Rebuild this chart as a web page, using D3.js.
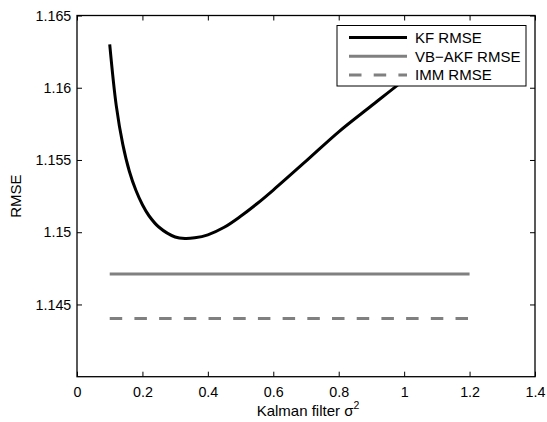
<!DOCTYPE html>
<html>
<head>
<meta charset="utf-8">
<script src="https://cdn.jsdelivr.net/npm/d3@7"></script>
<style>
  html, body { margin: 0; padding: 0; background: #fff; }
  svg { display: block; font-family: "Liberation Sans", Arial, Helvetica, sans-serif; }
</style>
</head>
<body>
<svg id="chart" width="547" height="422"></svg>
<script>
// Kalman filter variance sweep and its RMSE
const kfSigma = [0.10, 0.12, 0.14, 0.16, 0.18, 0.20, 0.22, 0.25, 0.30, 0.33, 0.36, 0.40, 0.45, 0.50, 0.55, 0.60, 0.70, 0.80, 0.90, 1.00, 1.10, 1.20];
const kfRmse  = [1.1630, 1.15876, 1.15608, 1.15422, 1.15290, 1.15190, 1.15114, 1.15036, 1.14967, 1.14956, 1.14961, 1.14982, 1.15034, 1.15110, 1.15197, 1.15292, 1.15492, 1.15695, 1.15875, 1.16053, 1.16220, 1.16380];

// Reference filters (constant over the sweep)
const flatSigma = [0.1, 1.2];
const vbakfRmse = [1.1471, 1.1471];
const immRmse   = [1.14403, 1.14403];

// Axis ticks
const xTicks = [0, 0.2, 0.4, 0.6, 0.8, 1, 1.2, 1.4];
const yTicks = [1.145, 1.15, 1.155, 1.16, 1.165];

const legendLabels = ["KF RMSE", "VB\u2212AKF RMSE", "IMM RMSE"];

const svg = d3.select("#chart");
const plotLeft = 77, plotRight = 535, plotTop = 15.5, plotBottom = 376.7;

const x = d3.scaleLinear().domain([0, 1.4]).range([plotLeft, plotRight]);
const y = d3.scaleLinear().domain([1.14, 1.165]).range([plotBottom, plotTop]);

const fmt = v => String(+v.toFixed(3));
const tickLen = 5;

// Axes: boxed frame with inward ticks on all four sides
const gx = svg.append("g").attr("transform", `translate(0,${plotBottom})`)
  .call(d3.axisBottom(x).tickValues(xTicks).tickFormat(fmt).tickSizeInner(-tickLen).tickSizeOuter(0).tickPadding(10));
const gxTop = svg.append("g").attr("transform", `translate(0,${plotTop})`)
  .call(d3.axisTop(x).tickValues(xTicks).tickFormat("").tickSizeInner(-tickLen).tickSizeOuter(0));
const gy = svg.append("g").attr("transform", `translate(${plotLeft},0)`)
  .call(d3.axisLeft(y).tickValues(yTicks).tickFormat(fmt).tickSizeInner(-tickLen).tickSizeOuter(0).tickPadding(10));
const gyRight = svg.append("g").attr("transform", `translate(${plotRight},0)`)
  .call(d3.axisRight(y).tickValues(yTicks).tickFormat("").tickSizeInner(-tickLen).tickSizeOuter(0));

[gx, gxTop, gy, gyRight].forEach(g => {
  g.select(".domain").remove();
  g.selectAll(".tick line").attr("stroke", "#000").attr("stroke-width", 1);
  g.selectAll("text").attr("font-size", 14.3).attr("fill", "#000")
    .attr("font-family", "'Liberation Sans', Arial, sans-serif");
});
gy.selectAll("text").attr("dx", "0.3em");

svg.append("rect")
  .attr("x", plotLeft).attr("y", plotTop)
  .attr("width", plotRight - plotLeft).attr("height", plotBottom - plotTop)
  .attr("fill", "none").attr("stroke", "#000").attr("stroke-width", 1.3);

// Series
const flatLine = d3.line().x(d => x(d[0])).y(d => y(d[1]));

svg.append("path")
  .datum(flatSigma.map((s, i) => [s, vbakfRmse[i]]))
  .attr("d", flatLine)
  .attr("fill", "none").attr("stroke", "#808080").attr("stroke-width", 3);

svg.append("path")
  .datum(flatSigma.map((s, i) => [s, immRmse[i]]))
  .attr("d", flatLine)
  .attr("fill", "none").attr("stroke", "#808080").attr("stroke-width", 3)
  .attr("stroke-dasharray", "12.5,12.2");

svg.append("path")
  .datum(kfSigma.map((s, i) => [s, kfRmse[i]]))
  .attr("d", d3.line().x(d => x(d[0])).y(d => y(d[1])).curve(d3.curveCatmullRom.alpha(0.5)))
  .attr("fill", "none").attr("stroke", "#000").attr("stroke-width", 3);

// Legend
const lg = svg.append("g").attr("transform", "translate(337,25.5)");
lg.append("rect").attr("width", 189).attr("height", 60.5)
  .attr("fill", "#fff").attr("stroke", "#000").attr("stroke-width", 1);
const legendStyles = [
  { stroke: "#000", dash: null },
  { stroke: "#808080", dash: null },
  { stroke: "#808080", dash: "12.5,12.2" }
];
legendLabels.forEach((lab, i) => {
  const ly = 12 + i * 18.8;
  lg.append("line").attr("x1", 12).attr("x2", 70).attr("y1", ly).attr("y2", ly)
    .attr("stroke", legendStyles[i].stroke).attr("stroke-width", 3)
    .attr("stroke-dasharray", legendStyles[i].dash);
  lg.append("text").attr("x", 78).attr("y", ly + 5.3)
    .attr("font-size", 15).attr("fill", "#000").text(lab);
});

// Axis titles
const xt = svg.append("text")
  .attr("x", (plotLeft + plotRight) / 2 + 2).attr("y", 415.5)
  .attr("text-anchor", "middle").attr("font-size", 15).attr("fill", "#000");
xt.append("tspan").text("Kalman filter \u03C3");
xt.append("tspan").attr("dy", "-0.6em").attr("font-size", 10.5).text("2");

svg.append("text")
  .attr("transform", `translate(20.5,${(plotTop + plotBottom) / 2}) rotate(-90)`)
  .attr("text-anchor", "middle").attr("font-size", 15).attr("fill", "#000")
  .text("RMSE");
</script>
</body>
</html>
